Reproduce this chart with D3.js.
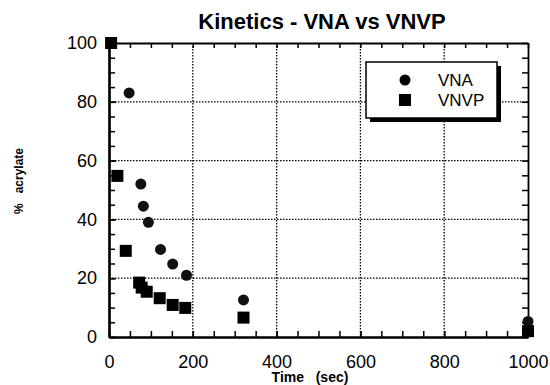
<!DOCTYPE html>
<html>
<head>
<meta charset="utf-8">
<script src="https://cdn.jsdelivr.net/npm/d3@7"></script>
<style>
  body { margin: 0; background: #fff; }
  svg { display: block; font-family: "Liberation Sans", Arial, Helvetica, sans-serif; }
</style>
</head>
<body>
<svg id="chart" width="550" height="385"></svg>
<script>
// VNA series (circles)
const vnaTime = [48, 76, 82, 94, 123, 152, 185, 321, 1000];
const vnaPct  = [83, 52, 44.5, 39, 29.8, 24.8, 21, 12.6, 5.3];

// VNVP series (squares)
const vnvpTime = [5, 20, 40, 72, 78, 90, 121, 152, 182, 321, 1000];
const vnvpPct  = [100, 54.8, 29.3, 18.5, 16.8, 15.4, 13.2, 10.9, 9.9, 6.6, 2];

const xTicks = [0, 200, 400, 600, 800, 1000];
const yTicks = [0, 20, 40, 60, 80, 100];

const svg = d3.select("#chart");

const x = d3.scaleLinear().domain([0, 1000]).range([109, 528]);
const y = d3.scaleLinear().domain([0, 100]).range([337, 43]);

// dotted grid
const grid = svg.append("g").attr("stroke", "#000").attr("stroke-width", 1.3)
    .attr("stroke-dasharray", "1.5,1.5");
grid.selectAll("line.gx")
    .data(xTicks.slice(1, -1))
    .join("line")
    .attr("x1", d => x(d)).attr("x2", d => x(d))
    .attr("y1", y(100)).attr("y2", y(0));
grid.selectAll("line.gy")
    .data(yTicks.slice(1, -1))
    .join("line")
    .attr("x1", x(0)).attr("x2", x(1000))
    .attr("y1", d => y(d)).attr("y2", d => y(d));

// axes (ticks point inward)
const xMinor = d3.range(0, 1001, 50);
const yMinor = d3.range(0, 101, 5);

function styleAxis(g, w) {
    g.select(".domain").attr("stroke-width", w);
    g.selectAll(".tick line").attr("stroke-width", 1.5);
    g.selectAll(".tick text").attr("font-size", 18).attr("fill", "#000")
        .attr("font-family", "\"Liberation Sans\", Arial, sans-serif");
}

svg.append("g")
    .attr("transform", `translate(0,${y(0)})`)
    .call(d3.axisBottom(x).tickValues(xMinor).tickSize(-6).tickFormat("").tickSizeOuter(0))
    .call(g => styleAxis(g, 2.2));
svg.append("g")
    .attr("transform", `translate(0,${y(0)})`)
    .call(d3.axisBottom(x).tickValues(xTicks).tickSize(-6).tickPadding(18)
        .tickFormat(d3.format("d")).tickSizeOuter(0))
    .call(g => styleAxis(g, 2.2));

svg.append("g")
    .attr("transform", `translate(0,${y(100)})`)
    .call(d3.axisTop(x).tickValues(xMinor).tickSize(-5).tickFormat("").tickSizeOuter(0))
    .call(g => styleAxis(g, 1.8));

svg.append("g")
    .attr("transform", `translate(${x(0)},0)`)
    .call(d3.axisLeft(y).tickValues(yMinor).tickSize(-6).tickFormat("").tickSizeOuter(0))
    .call(g => styleAxis(g, 2.2));
svg.append("g")
    .attr("transform", `translate(${x(0)},0)`)
    .call(d3.axisLeft(y).tickValues(yTicks).tickSize(-7).tickPadding(12)
        .tickFormat(d3.format("d")).tickSizeOuter(0))
    .call(g => styleAxis(g, 2.2));

svg.append("g")
    .attr("transform", `translate(${x(1000)},0)`)
    .call(d3.axisRight(y).tickValues(yMinor).tickSize(-6).tickFormat("").tickSizeOuter(0))
    .call(g => styleAxis(g, 1.8));

// markers
svg.append("g").selectAll("circle")
    .data(vnaTime.map((t, i) => [t, vnaPct[i]]))
    .join("circle")
    .attr("cx", d => x(d[0]))
    .attr("cy", d => y(d[1]))
    .attr("r", 5.5)
    .attr("fill", "#111");

svg.append("g").selectAll("rect")
    .data(vnvpTime.map((t, i) => [t, vnvpPct[i]]))
    .join("rect")
    .attr("x", d => x(d[0]) - 6)
    .attr("y", d => y(d[1]) - 6)
    .attr("width", 12)
    .attr("height", 12)
    .attr("fill", "#000");

// legend with drop shadow
const lg = svg.append("g");
lg.append("rect").attr("x", 370).attr("y", 66).attr("width", 131).attr("height", 56).attr("fill", "#000");
lg.append("rect").attr("x", 366).attr("y", 62).attr("width", 131).attr("height", 56)
    .attr("fill", "#fff").attr("stroke", "#000").attr("stroke-width", 1.5);
lg.append("circle").attr("cx", 405).attr("cy", 80).attr("r", 5.5).attr("fill", "#000");
lg.append("rect").attr("x", 399).attr("y", 94).attr("width", 12).attr("height", 12).attr("fill", "#000");
lg.append("text").attr("x", 438).attr("y", 86).attr("font-size", 17).text("VNA");
lg.append("text").attr("x", 438).attr("y", 106).attr("font-size", 17).text("VNVP");

// titles
svg.append("text")
    .attr("x", 322).attr("y", 29)
    .attr("text-anchor", "middle")
    .attr("font-size", 22).attr("font-weight", "bold")
    .text("Kinetics - VNA vs VNVP");

svg.append("text")
    .attr("x", 310).attr("y", 382)
    .attr("text-anchor", "middle")
    .attr("font-size", 14).attr("font-weight", "bold")
    .attr("xml:space", "preserve")
    .text("Time   (sec)");

svg.append("text")
    .attr("transform", "translate(23,181) rotate(-90)")
    .attr("text-anchor", "middle")
    .attr("font-size", 12).attr("font-weight", "bold")
    .attr("xml:space", "preserve")
    .text("%   acrylate");
</script>
</body>
</html>
